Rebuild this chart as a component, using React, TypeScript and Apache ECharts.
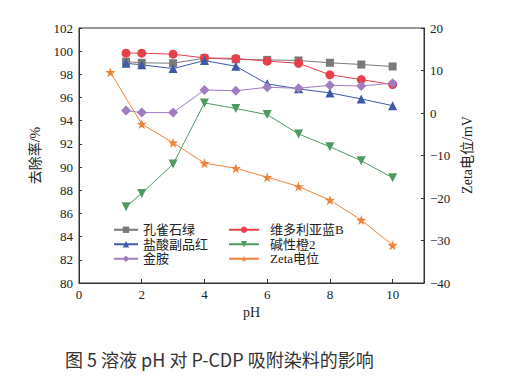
import React, { useEffect, useRef } from "react";
import * as echarts from "echarts";

const phDyes = [1.5, 2, 3, 4, 5, 6, 7, 8, 9, 10];
const phZeta = [1, 2, 3, 4, 5, 6, 7, 8, 9, 10];

const malachiteGreen = [99.1, 99.0, 98.96, 99.4, 99.3, 99.25, 99.2, 99.0, 98.85, 98.68];
const victoriaBlueB = [99.83, 99.83, 99.74, 99.42, 99.37, 99.14, 98.96, 97.96, 97.55, 97.12];
const pararosaniline = [98.96, 98.82, 98.5, 99.19, 98.7, 97.18, 96.75, 96.4, 95.88, 95.3];
const basicOrange2 = [86.58, 87.73, 90.26, 95.54, 95.05, 94.53, 92.86, 91.75, 90.55, 89.08];
const auramine = [94.88, 94.7, 94.7, 96.66, 96.58, 96.89, 96.8, 97.06, 97.0, 97.24];
const zetaPotential = [9.6, -2.6, -7.0, -11.8, -13.0, -15.1, -17.3, -20.5, -25.2, -31.1];

const seriesNames = ["孔雀石绿", "维多利亚蓝B", "盐酸副品红", "碱性橙2", "金胺", "Zeta电位"];
const xTicks = { min: 0, max: 11, interval: 2 };
const leftTicks = { min: 80, max: 102, interval: 2 };
const rightTicks = { min: -40, max: 20, interval: 10 };

const SERIF = "'Liberation Serif', 'Times New Roman', 'Noto Sans CJK SC', serif";

const pair = (xs: number[], ys: number[]) => xs.map((x, i) => [x, ys[i]]);

export default function App() {
  const ref = useRef<HTMLDivElement>(null);
  useEffect(() => {
    if (!ref.current) return;
    const chart = echarts.init(ref.current, undefined, { renderer: "svg" });
    const mk = (name: string, data: number[][], color: string, symbol: string, size: number, yAxisIndex = 0) => ({
      name,
      type: "line",
      yAxisIndex,
      data,
      symbol,
      symbolSize: size,
      lineStyle: { color, width: 1 },
      itemStyle: { color },
    });
    const axisText = { fontFamily: SERIF, fontSize: 13, color: "#222" };
    chart.setOption({
      animation: false,
      grid: { left: 79, right: 82, top: 28, bottom: 93, show: true, borderColor: "#333", borderWidth: 1 },
      legend: [
        {
          data: [seriesNames[0], seriesNames[2], seriesNames[4]],
          orient: "vertical",
          left: 108,
          top: 218,
          itemWidth: 24,
          itemHeight: 8,
          itemGap: 1,
          textStyle: { fontFamily: SERIF, fontSize: 13, color: "#222", lineHeight: 13.5 },
        },
        {
          data: [seriesNames[1], seriesNames[3], seriesNames[5]],
          orient: "vertical",
          left: 223,
          top: 218,
          itemWidth: 30,
          itemHeight: 8,
          itemGap: 1,
          textStyle: { fontFamily: SERIF, fontSize: 13, color: "#222", lineHeight: 13.5, padding: [0, 0, 0, 6] },
        },
      ],
      xAxis: {
        type: "value",
        ...xTicks,
        name: "pH",
        nameLocation: "middle",
        nameGap: 22,
        nameTextStyle: { fontFamily: SERIF, fontSize: 14, color: "#222" },
        axisLine: { onZero: false, lineStyle: { color: "#333" } },
        axisTick: { inside: true, length: 4, lineStyle: { color: "#333" } },
        axisLabel: { ...axisText, margin: 5, showMaxLabel: false },
        splitLine: { show: false },
      },
      yAxis: [
        {
          type: "value",
          ...leftTicks,
          name: "去除率/%",
          nameLocation: "middle",
          nameGap: 32,
          nameTextStyle: { fontFamily: SERIF, fontSize: 14, color: "#222" },
          axisLine: { show: true, onZero: false, lineStyle: { color: "#333" } },
          axisTick: { show: true, inside: true, length: 3, lineStyle: { color: "#333" } },
          axisLabel: { ...axisText, margin: 6 },
          splitLine: { show: false },
        },
        {
          type: "value",
          ...rightTicks,
          axisLine: { show: true, onZero: false, lineStyle: { color: "#333" } },
          axisTick: { show: true, inside: true, length: 3, lineStyle: { color: "#333" } },
          axisLabel: {
            ...axisText,
            margin: 6,
            formatter: (v: number) => (v < 0 ? "\u2212" + Math.abs(v) : String(v)),
          },
          splitLine: { show: false },
        },
      ],
      series: [
        mk(seriesNames[0], pair(phDyes, malachiteGreen), "#7a7a7a", "rect", 8),
        mk(seriesNames[1], pair(phDyes, victoriaBlueB), "#e8404a", "circle", 9),
        mk(seriesNames[2], pair(phDyes, pararosaniline), "#3d5aa8", "triangle", 9),
        mk(seriesNames[3], pair(phDyes, basicOrange2), "#4f9a63", "path://M0,0 L10,0 L5,9 Z", 9),
        mk(seriesNames[4], pair(phDyes, auramine), "#a07cc0", "diamond", 10),
        mk(seriesNames[5], pair(phZeta, zetaPotential), "#f0833a", "path://M5,0 L6.18,3.38 L9.76,3.45 L6.9,5.62 L7.94,9.05 L5,7 L2.06,9.05 L3.1,5.62 L0.24,3.45 L3.82,3.38 Z", 10, 1),
      ],
      graphic: [
        {
          type: "text",
          x: 467,
          y: 155,
          rotation: Math.PI / 2,
          style: {
            text: "Zeta电位/mV",
            fontFamily: SERIF,
            fontSize: 14,
            fill: "#222",
            align: "center",
            verticalAlign: "middle",
          },
        },
        {
          type: "text",
          left: 65,
          top: 350,
          style: {
            text: "图 5 溶液 pH 对 P-CDP 吸附染料的影响",
            fontFamily: "'Noto Sans CJK SC', 'Noto Sans', sans-serif",
            fontSize: 18,
            fill: "#333",
          },
        },
      ],
    });
    return () => chart.dispose();
  }, []);
  return <div ref={ref} style={{ width: 506, height: 376, position: "absolute", left: 0, top: 0, background: "#fff" }} />;
}
